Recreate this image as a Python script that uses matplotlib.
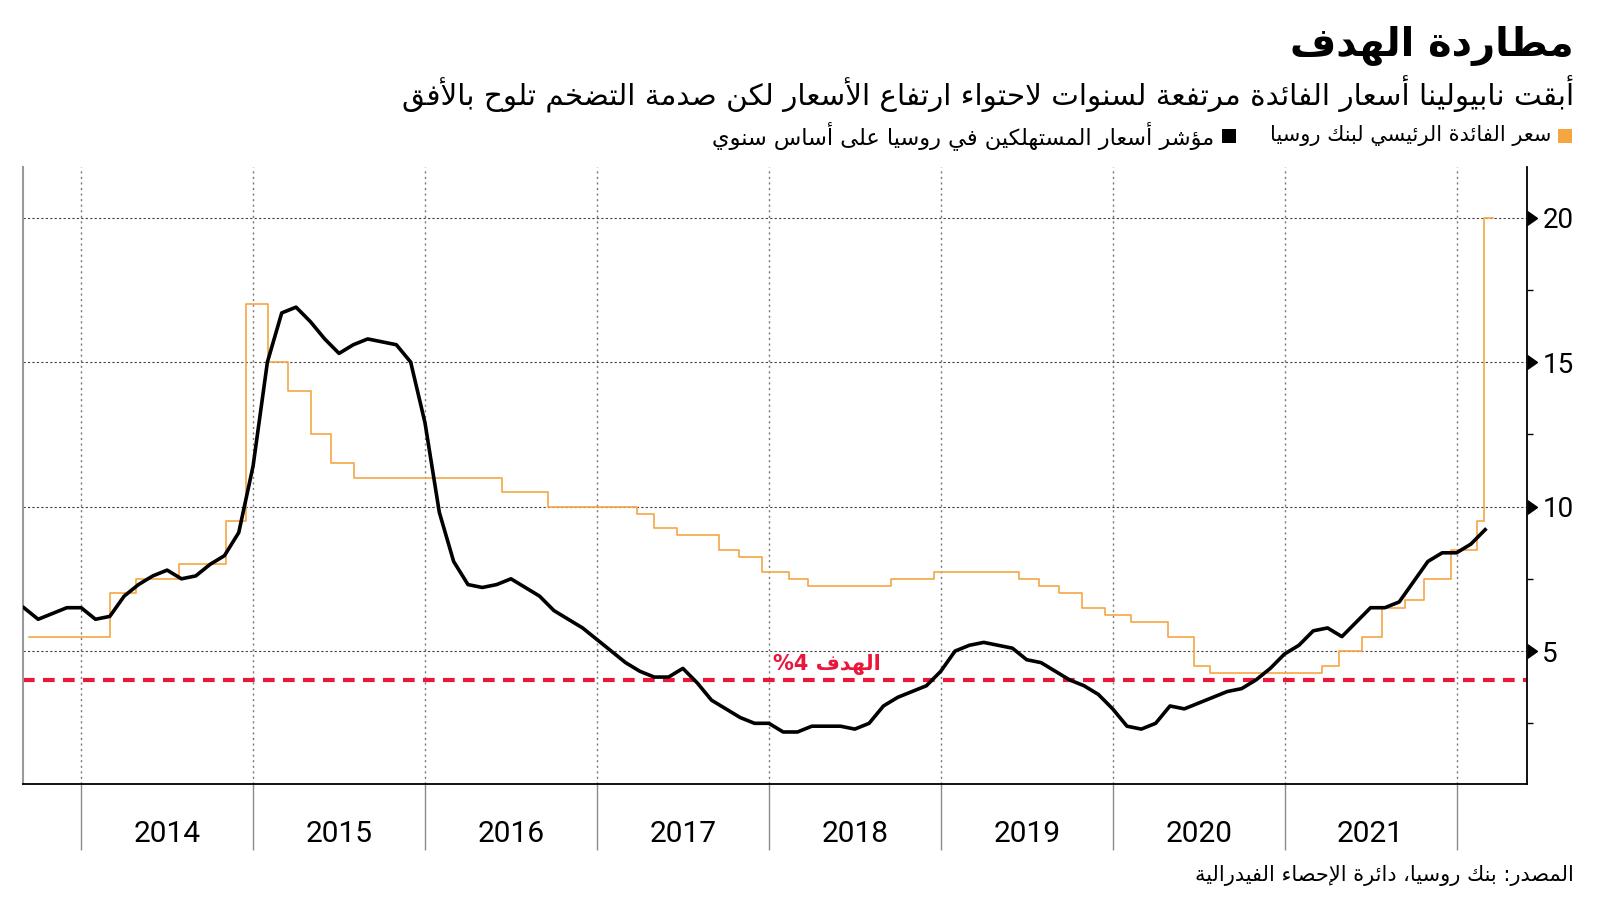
import re

import numpy as np
import pandas as pd
import matplotlib
matplotlib.use('Agg')
from matplotlib import pyplot as plt
from matplotlib import font_manager, markers
from matplotlib.patches import Rectangle
from matplotlib.transforms import blended_transform_factory

# ---------------- data ----------------
# Russia CPI, % y/y, monthly from Aug 2013 to Feb 2022
cpi_first_month = '2013-08'
cpi_2013 = [6.5, 6.1, 6.3, 6.5, 6.5]
cpi_2014 = [6.1, 6.2, 6.9, 7.3, 7.6, 7.8, 7.5, 7.6, 8.0, 8.3, 9.1, 11.4]
cpi_2015 = [15.0, 16.7, 16.9, 16.4, 15.8, 15.3, 15.6, 15.8, 15.7, 15.6, 15.0, 12.9]
cpi_2016 = [9.8, 8.1, 7.3, 7.2, 7.3, 7.5, 7.2, 6.9, 6.4, 6.1, 5.8, 5.4]
cpi_2017 = [5.0, 4.6, 4.3, 4.1, 4.1, 4.4, 3.9, 3.3, 3.0, 2.7, 2.5, 2.5]
cpi_2018 = [2.2, 2.2, 2.4, 2.4, 2.4, 2.3, 2.5, 3.1, 3.4, 3.6, 3.8, 4.3]
cpi_2019 = [5.0, 5.2, 5.3, 5.2, 5.1, 4.7, 4.6, 4.3, 4.0, 3.8, 3.5, 3.0]
cpi_2020 = [2.4, 2.3, 2.5, 3.1, 3.0, 3.2, 3.4, 3.6, 3.7, 4.0, 4.4, 4.9]
cpi_2021 = [5.2, 5.7, 5.8, 5.5, 6.0, 6.5, 6.5, 6.7, 7.4, 8.1, 8.4, 8.4]
cpi_2022 = [8.7, 9.2]

# Bank of Russia key rate, date it took effect
rate_dates = ['2013-09-13', '2014-03-03', '2014-04-28', '2014-07-28', '2014-11-05',
              '2014-12-16', '2015-02-02', '2015-03-16', '2015-05-05', '2015-06-16',
              '2015-08-03', '2016-06-14', '2016-09-19', '2017-03-27', '2017-05-02',
              '2017-06-19', '2017-09-18', '2017-10-30', '2017-12-18', '2018-02-12',
              '2018-03-26', '2018-09-17', '2018-12-17', '2019-06-17', '2019-07-29',
              '2019-09-09', '2019-10-28', '2019-12-16', '2020-02-10', '2020-04-27',
              '2020-06-22', '2020-07-27', '2021-03-22', '2021-04-26', '2021-06-15',
              '2021-07-26', '2021-09-13', '2021-10-25', '2021-12-20', '2022-02-14',
              '2022-02-28', '2022-03-20']
rate_values = [5.5, 7.0, 7.5, 8.0, 9.5,
               17.0, 15.0, 14.0, 12.5, 11.5,
               11.0, 10.5, 10.0, 9.75, 9.25,
               9.0, 8.5, 8.25, 7.75, 7.5,
               7.25, 7.5, 7.75, 7.5, 7.25,
               7.0, 6.5, 6.25, 6.0, 5.5,
               4.5, 4.25, 4.5, 5.0, 5.5,
               6.5, 6.75, 7.5, 8.5, 9.5,
               20.0, 20.0]

target = 4
year_labels = [2014, 2015, 2016, 2017, 2018, 2019, 2020, 2021]
y_labels = [5, 10, 15, 20]

title = 'مطاردة الهدف'
subtitle = 'أبقت نابيولينا أسعار الفائدة مرتفعة لسنوات لاحتواء ارتفاع الأسعار لكن صدمة التضخم تلوح بالأفق'
legend_rate = 'سعر الفائدة الرئيسي لبنك روسيا'
legend_cpi = 'مؤشر أسعار المستهلكين في روسيا على أساس سنوي'
target_label = 'الهدف 4%'
source = 'المصدر: بنك روسيا، دائرة الإحصاء الفيدرالية'

ORANGE = '#F6A543'
RED = '#E8173B'


# ---------------- arabic shaping (matplotlib has no complex text layout) ----------------
_AR = {}
for ch, code, n in [('ء', 0xFE80, 1), ('آ', 0xFE81, 2), ('أ', 0xFE83, 2), ('ؤ', 0xFE85, 2),
                    ('إ', 0xFE87, 2), ('ئ', 0xFE89, 4), ('ا', 0xFE8D, 2), ('ب', 0xFE8F, 4),
                    ('ة', 0xFE93, 2), ('ت', 0xFE95, 4), ('ث', 0xFE99, 4), ('ج', 0xFE9D, 4),
                    ('ح', 0xFEA1, 4), ('خ', 0xFEA5, 4), ('د', 0xFEA9, 2), ('ذ', 0xFEAB, 2),
                    ('ر', 0xFEAD, 2), ('ز', 0xFEAF, 2), ('س', 0xFEB1, 4), ('ش', 0xFEB5, 4),
                    ('ص', 0xFEB9, 4), ('ض', 0xFEBD, 4), ('ط', 0xFEC1, 4), ('ظ', 0xFEC5, 4),
                    ('ع', 0xFEC9, 4), ('غ', 0xFECD, 4), ('ف', 0xFED1, 4), ('ق', 0xFED5, 4),
                    ('ك', 0xFED9, 4), ('ل', 0xFEDD, 4), ('م', 0xFEE1, 4), ('ن', 0xFEE5, 4),
                    ('ه', 0xFEE9, 4), ('و', 0xFEED, 2), ('ى', 0xFEEF, 2), ('ي', 0xFEF1, 4)]:
    _AR[ch] = (code, n)
_LAM_ALEF = {'آ': 0xFEF5, 'أ': 0xFEF7, 'إ': 0xFEF9, 'ا': 0xFEFB}


def ar(text):
    units = []
    i = 0
    while i < len(text):
        if text[i] == 'ل' and i + 1 < len(text) and text[i + 1] in _LAM_ALEF:
            units.append(('la', text[i + 1]))
            i += 2
        else:
            units.append(text[i])
            i += 1

    def joins_prev(u):
        return isinstance(u, tuple) or (u in _AR and _AR[u][1] > 1)

    def joins_next(u):
        return (not isinstance(u, tuple)) and u in _AR and _AR[u][1] == 4

    out = []
    for k, u in enumerate(units):
        p = k > 0 and joins_next(units[k - 1]) and joins_prev(u)
        nx = k < len(units) - 1 and joins_next(u) and joins_prev(units[k + 1])
        if isinstance(u, tuple):
            out.append(chr(_LAM_ALEF[u[1]] + (1 if p else 0)))
        elif u in _AR:
            code, n = _AR[u]
            if n == 4:
                off = 3 if (p and nx) else 1 if p else 2 if nx else 0
            elif n == 2:
                off = 1 if p else 0
            else:
                off = 0
            out.append(chr(code + off))
        else:
            out.append(u)
    vis = ''.join(reversed(out))
    # digit runs stay left to right
    return re.sub(r'[0-9]+', lambda m: m.group(0)[::-1], vis)


# ---------------- x positions ----------------
cpi_values = cpi_2013 + cpi_2014 + cpi_2015 + cpi_2016 + cpi_2017 + cpi_2018 + \
    cpi_2019 + cpi_2020 + cpi_2021 + cpi_2022
months = pd.period_range(cpi_first_month, periods=len(cpi_values), freq='M')
cpi_x = months.year + months.month / 12.0  # month end

d = pd.to_datetime(rate_dates)
rate_x = d.year + (d.dayofyear - 1) / (365 + d.is_leap_year.astype(int))

# ---------------- fonts ----------------
available = {f.name for f in font_manager.fontManager.ttflist}
num_font = 'Liberation Sans Narrow' if 'Liberation Sans Narrow' in available else 'Roboto'
AR_FONT = 'DejaVu Sans'

W, H = 1600, 901


def px(x):
    return x / W


def py(y):
    return 1 - y / H


fig = plt.figure(figsize=(16, 9.01), dpi=100)
ax = fig.add_axes([px(22.7), py(784), px(1527 - 22.7), (784 - 166.7) / H])

ax.step(rate_x, rate_values, where='post', color=ORANGE, lw=1.2, zorder=3)
ax.plot(cpi_x, cpi_values, color='black', lw=2.6, zorder=4)
ax.axhline(target, color=RED, lw=3, dashes=(2.8, 2.0), zorder=2)

ax.set_xlim(2013.66, 2022.41)
ax.set_ylim(0.4, 21.76)

# y axis on the right with triangle markers
ax.yaxis.tick_right()
ax.set_yticks(y_labels)
ax.set_yticklabels([str(v) for v in y_labels], fontsize=20, family=num_font)
ax.set_yticks([2.5, 7.5, 12.5, 17.5], minor=True)
ax.tick_params(axis='y', which='major', length=0, pad=11)
ax.tick_params(axis='y', which='minor', length=4, width=1, color='black', direction='out')
tr = blended_transform_factory(ax.transAxes, ax.transData)
ax.plot([1] * len(y_labels), y_labels, linestyle='none', marker=markers.CARETRIGHTBASE,
        markersize=9.5, color='black', transform=tr, clip_on=False, zorder=5)

# x axis: year separators below, year labels centred
ax.set_xticks(list(range(2014, 2023)))
ax.set_xticklabels([])
ax.set_xticks([y + 0.5 for y in year_labels], minor=True)
ax.set_xticklabels([str(y) for y in year_labels], minor=True, fontsize=21.5, family=num_font)
ax.tick_params(axis='x', which='major', length=47.5, width=1, color='#8a8a8a', direction='out')
ax.tick_params(axis='x', which='minor', length=0, pad=26)

ax.grid(axis='x', which='major', linestyle=(0, (1.5, 2.5)), color='#777777', lw=1)
ax.grid(axis='y', which='major', linestyle=(0, (2, 2)), color='#444444', lw=0.8)
ax.set_axisbelow(True)

ax.spines['top'].set_visible(False)
ax.spines['left'].set_color('#999999')
ax.spines['left'].set_linewidth(1.5)
ax.spines['right'].set_color('black')
ax.spines['right'].set_linewidth(1.3)
ax.spines['bottom'].set_color('black')
ax.spines['bottom'].set_linewidth(1.3)

# ---------------- texts ----------------
renderer = fig.canvas.get_renderer()


def fit_width(t, width_px):
    w = t.get_window_extent(renderer).width
    t.set_fontsize(t.get_fontsize() * width_px / w)


t_title = fig.text(px(1574), py(46), ar(title), ha='right', va='center',
                   fontsize=30, fontweight='bold', family=AR_FONT)
fit_width(t_title, 283)

t_sub = fig.text(px(1574), py(94), ar(subtitle), ha='right', va='center',
                 fontsize=20, family=AR_FONT)
fit_width(t_sub, 1169)

t_leg1 = fig.text(px(1551), py(136), ar(legend_rate), ha='right', va='center',
                  fontsize=13, family=AR_FONT)
fit_width(t_leg1, 281)
t_leg2 = fig.text(px(1214), py(136), ar(legend_cpi), ha='right', va='center',
                  fontsize=13, family=AR_FONT)
fit_width(t_leg2, 503)

fig.add_artist(Rectangle((px(1558), py(143)), 14 / W, 14 / H, transform=fig.transFigure,
                         facecolor=ORANGE, edgecolor='none'))
fig.add_artist(Rectangle((px(1222), py(143)), 14 / W, 14 / H, transform=fig.transFigure,
                         facecolor='black', edgecolor='none'))

t_target = ax.text(2018.34, 4.54, ar(target_label), ha='center', va='center', color=RED,
                   fontsize=14, fontweight='bold', family=AR_FONT, zorder=6)
fit_width(t_target, 108)

t_src = fig.text(px(1574), py(876), ar(source), ha='right', va='center',
                 fontsize=13, family=AR_FONT)
fit_width(t_src, 378)

fig.savefig('out.png', dpi=100)
